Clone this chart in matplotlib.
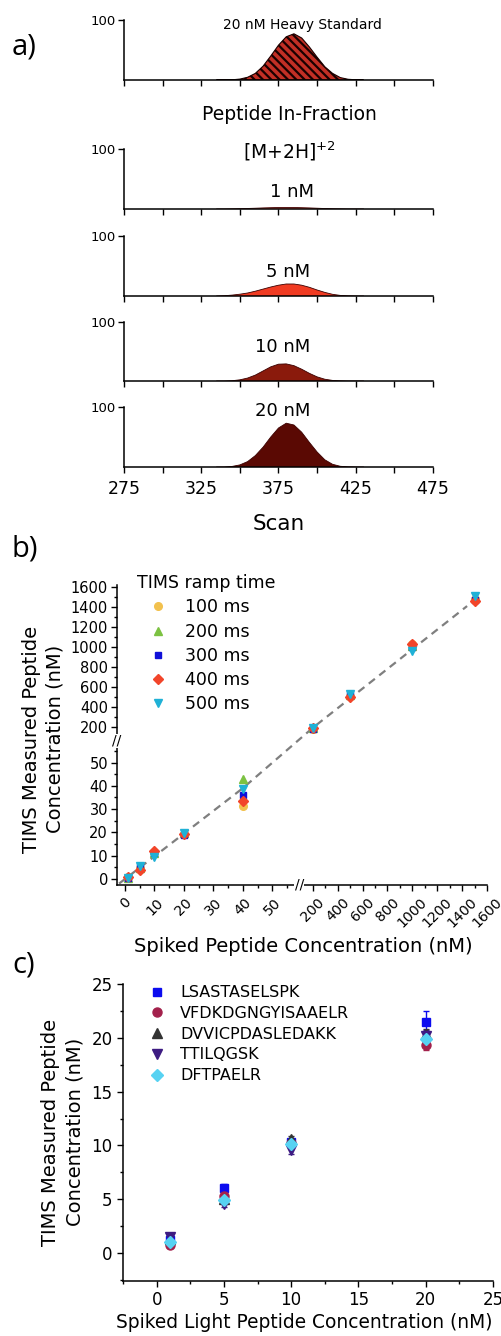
import numpy as np
import matplotlib
matplotlib.use('Agg')
import matplotlib.pyplot as plt
import matplotlib.transforms as mtransforms
from matplotlib.ticker import MultipleLocator, FixedLocator, NullFormatter

plt.rcParams['font.family'] = ['DejaVu Sans']
plt.rcParams['hatch.linewidth'] = 1.6
plt.rcParams['axes.linewidth'] = 1.1

# ---------------- data ----------------
# panel a: extracted ion mobilograms (relative intensity vs scan)
scan = [335, 340, 345, 350, 355, 360, 365, 370, 375, 380,
        385, 390, 395, 400, 405, 410, 415, 420, 425, 430]
heavy_20 = [0, 0, 0.3, 1.5, 4.5, 11, 23, 40, 58, 72,
            77, 70, 55, 38, 22, 11, 4, 1.2, 0.3, 0]
light_1 = [0, 0, 0.2, 0.5, 0.9, 1.3, 1.8, 2.2, 2.5, 2.6,
           2.5, 2.2, 1.8, 1.3, 0.8, 0.4, 0.2, 0, 0, 0]
light_5 = [0, 0.5, 1.5, 3, 5, 8, 11.5, 15, 18, 20,
           20, 18, 14.5, 10, 6, 2.8, 1, 0.3, 0, 0]
light_10 = [0, 0, 0.5, 2, 5, 10, 17, 24, 28.5, 29,
            26, 20, 13, 7, 3, 1, 0.3, 0, 0, 0]
light_20 = [0, 0, 1, 3.5, 9, 19, 33, 50, 65, 73,
            70, 58, 41, 25, 12, 4.5, 1.2, 0.3, 0, 0]
a_labels = ['20 nM Heavy Standard', '1 nM', '5 nM', '10 nM', '20 nM']
a_colors = ['#c22f25', '#f2604e', '#f03b22', '#8a1a0c', '#5a0903']
scan_ticks = [275, 325, 375, 425, 475]

# panel b: measured vs spiked, five ramp times
spiked = [1, 5, 10, 20, 40, 200, 500, 1000, 1500]
ramp_100 = [0.8, 4.5, 11.5, 19.5, 31.5, 185, 515, 1035, 1480]
ramp_200 = [0.6, 4.8, 11.0, 19.8, 43.0, 190, 520, 1010, 1490]
ramp_300 = [0.5, 5.0, 11.0, 19.0, 36.0, 188, 525, 1000, 1470]
ramp_400 = [1.0, 3.8, 12.0, 19.5, 33.5, 192, 505, 1030, 1465]
ramp_500 = [0.3, 5.7, 9.6, 19.8, 38.5, 195, 530, 965, 1510]
ramp_names = ['100 ms', '200 ms', '300 ms', '400 ms', '500 ms']
fit_x = [-2, 40, 200, 1440]
fit_y = [-2, 39, 196, 1410]

# panel c: five peptides
spiked_light = [1, 5, 10, 20]
pep_names = ['LSASTASELSPK', 'VFDKDGNGYISAAELR', 'DVVICPDASLEDAKK',
             'TTILQGSK', 'DFTPAELR']
pep_means = [[1.2, 6.0, 10.3, 21.5],
             [0.7, 5.3, 10.2, 19.3],
             [1.3, 5.0, 10.6, 20.4],
             [1.5, 4.6, 9.6, 20.2],
             [1.0, 4.9, 10.1, 19.9]]
pep_errs = [[0.3, 0.4, 0.3, 1.0],
            [0.2, 0.4, 0.4, 0.4],
            [0.2, 0.3, 0.3, 0.4],
            [0.2, 0.3, 0.4, 0.5],
            [0.2, 0.3, 0.3, 0.4]]

# ---------------- figure ----------------
W, H = 502, 1336
fig = plt.figure(figsize=(W / 100, H / 100), dpi=100)


def box(left, top, right, bottom):
    return [left / W, 1 - bottom / H, (right - left) / W, (bottom - top) / H]


def fpos(x, y):
    return x / W, 1 - y / H


# ---- panel a ----
a_boxes = [(20, 80), (149, 209), (236, 296), (322, 381), (407, 467)]
a_curves = [heavy_20, light_1, light_5, light_10, light_20]
for i, ((top, bot), vals) in enumerate(zip(a_boxes, a_curves)):
    ax = fig.add_axes(box(124, top, 433, bot))
    if i == 0:
        ax.fill_between(scan, vals, facecolor=a_colors[i], edgecolor='#1a0000',
                        hatch='\\\\\\\\', linewidth=0.8)
    else:
        ax.fill_between(scan, vals, facecolor=a_colors[i], edgecolor='none')
        ax.plot(scan, vals, color='#3a0000', lw=0.6)
    ax.set_xlim(275, 475)
    ax.set_ylim(0, 100)
    ax.spines[['top', 'right']].set_visible(False)
    ax.set_yticks([100])
    ax.xaxis.set_major_locator(FixedLocator(scan_ticks))
    ax.xaxis.set_minor_locator(MultipleLocator(25))
    ax.tick_params(direction='out', length=4, width=1, labelsize=9.5, pad=2)
    ax.tick_params(which='minor', direction='out', length=4, width=1)
    if i < 4:
        ax.set_xticklabels([])
    else:
        ax.tick_params(axis='x', labelsize=12.5, pad=5)
        ax.set_xlabel('Scan', fontsize=15.5, labelpad=12)

fig.text(*fpos(302, 25), a_labels[0], ha='center', va='center', fontsize=10)
fig.text(*fpos(289, 115), 'Peptide In-Fraction', ha='center', va='center', fontsize=13.5)
fig.text(*fpos(289, 151), r'[M+2H]$^{+2}$', ha='center', va='center', fontsize=13.5)
for (x, y), lab in zip([(292, 192), (288, 272), (283, 347), (283, 411)], a_labels[1:]):
    fig.text(*fpos(x, y), lab, ha='center', va='center', fontsize=13)

for lab, y in [('a)', 47), ('b)', 549), ('c)', 965)]:
    fig.text(*fpos(12, y), lab, ha='left', va='center', fontsize=21,
             family=['Open Sans', 'DejaVu Sans'])


# ---- panel b: broken axes via piecewise linear scales ----
def bx_fwd(x):
    x = np.asarray(x, float)
    return np.where(x <= 58, x * 2.95,
                    np.where(x <= 120, 171.1 + (x - 58) * 7 / 62,
                             178 + (x - 120) * 0.1246))


def bx_inv(p):
    p = np.asarray(p, float)
    return np.where(p <= 171.1, p / 2.95,
                    np.where(p <= 178, 58 + (p - 171.1) * 62 / 7,
                             120 + (p - 178) / 0.1246))


def by_fwd(y):
    y = np.asarray(y, float)
    return np.where(y <= 57, y * 2.32,
                    np.where(y <= 120, 132.2 + (y - 57) * 10.8 / 63,
                             143 + (y - 120) * 0.1))


def by_inv(p):
    p = np.asarray(p, float)
    return np.where(p <= 132.2, p / 2.32,
                    np.where(p <= 143, 57 + (p - 132.2) * 63 / 10.8,
                             120 + (p - 143) / 0.1))


axb = fig.add_axes(box(117, 585, 487, 885))
axb.set_xscale('function', functions=(bx_fwd, bx_inv))
axb.set_yscale('function', functions=(by_fwd, by_inv))
axb.plot(fit_x, fit_y, color='#7f7f7f', lw=1.6, ls=(0, (3.5, 2.5)), zorder=1)
ramp_sets = [ramp_100, ramp_200, ramp_300, ramp_400, ramp_500]
ramp_colors = ['#f2c14e', '#7cc242', '#1010d8', '#f2452a', '#1fb1d6']
ramp_markers = ['o', '^', 's', 'D', 'v']
ramp_sizes = [5.5, 6, 5, 5, 6]
for vals, c, m, s, name in zip(ramp_sets, ramp_colors, ramp_markers, ramp_sizes, ramp_names):
    axb.plot(spiked, vals, ls='none', marker=m, color=c, ms=s, mec=c, label=name, zorder=3)
axb.set_xlim(-2.7, 1600)
axb.set_ylim(-2.6, 1620)
axb.xaxis.set_major_locator(FixedLocator([0, 10, 20, 30, 40, 50] + list(range(200, 1601, 200))))
axb.xaxis.set_minor_locator(FixedLocator([5, 15, 25, 35, 45, 55] + list(range(300, 1501, 200))))
axb.yaxis.set_major_locator(FixedLocator([0, 10, 20, 30, 40, 50] + list(range(200, 1601, 200))))
axb.yaxis.set_minor_locator(FixedLocator([5, 15, 25, 35, 45, 55] + list(range(300, 1501, 200))))
axb.xaxis.set_major_formatter(plt.FuncFormatter(lambda v, p: '%d' % round(v)))
axb.yaxis.set_major_formatter(plt.FuncFormatter(lambda v, p: '%d' % round(v)))
axb.xaxis.set_minor_formatter(NullFormatter())
axb.yaxis.set_minor_formatter(NullFormatter())
axb.spines[['top', 'right']].set_visible(False)
axb.tick_params(direction='out', length=4.5, width=1, labelsize=10.5, pad=2)
axb.tick_params(which='minor', direction='out', length=2.5, width=1)
plt.setp(axb.get_xticklabels(), rotation=45, ha='center')
axb.tick_params(axis='x', pad=3, labelsize=10.2)

# break marks
trx = mtransforms.blended_transform_factory(axb.transData, axb.transAxes)
axb.text(89, 0, '//', transform=trx, ha='center', va='center', fontsize=10,
         bbox=dict(fc='white', ec='none', pad=0.3), clip_on=False, zorder=6)
try_ = mtransforms.blended_transform_factory(axb.transAxes, axb.transData)
axb.text(0, 88, '//', transform=try_, ha='center', va='center', fontsize=10,
         bbox=dict(fc='white', ec='none', pad=0.3), clip_on=False, zorder=6)

axb.legend(title='TIMS ramp time', loc='upper left', bbox_to_anchor=(0.054, 1.036),
           frameon=False, fontsize=12.5, title_fontsize=12.5, borderpad=0,
           borderaxespad=0, handlelength=2.4, handletextpad=0.35,
           labelspacing=0.36, alignment='left')
axb.set_xlabel('Spiked Peptide Concentration (nM)', fontsize=14)
axb.xaxis.set_label_coords(0.503, -0.173)
fig.text(*fpos(43, 739), 'TIMS Measured Peptide\nConcentration (nM)', rotation=90,
         ha='center', va='center', fontsize=14, linespacing=1.33)

# ---- panel c ----
axc = fig.add_axes(box(123, 984, 493, 1281))
pep_colors = ['#0b0bef', '#a3214c', '#333333', '#3d1b82', '#57d2f2']
pep_markers = ['s', 'o', '^', 'v', 'D']
pep_sizes = [6, 6.5, 6.5, 6.5, 6]
pep_handles = []
for name, m_, e_, c, mk, s in zip(pep_names, pep_means, pep_errs, pep_colors, pep_markers, pep_sizes):
    eb = axc.errorbar(spiked_light, m_, yerr=e_, ls='none', marker=mk, ms=s, color=c,
                      mec=c, ecolor=c, elinewidth=1, capsize=2.5, label=name)
    pep_handles.append(eb[0])
axc.set_xlim(-2.5, 25)
axc.set_ylim(-2.6, 25)
axc.xaxis.set_major_locator(MultipleLocator(5))
axc.xaxis.set_minor_locator(MultipleLocator(2.5))
axc.yaxis.set_major_locator(MultipleLocator(5))
axc.yaxis.set_minor_locator(MultipleLocator(2.5))
axc.spines[['top', 'right']].set_visible(False)
axc.tick_params(direction='out', length=4.5, width=1, labelsize=12, pad=3)
axc.tick_params(which='minor', direction='out', length=2.5, width=1)
axc.legend(pep_handles, pep_names, loc='upper left', bbox_to_anchor=(0.049, 0.996),
           frameon=False, fontsize=11.5, borderpad=0, borderaxespad=0,
           handlelength=2.0, handletextpad=0.45, labelspacing=0.36)
axc.set_xlabel('Spiked Light Peptide Concentration (nM)', fontsize=13.4)
axc.xaxis.set_label_coords(0.49, -0.108)
fig.text(*fpos(63, 1132), 'TIMS Measured Peptide\nConcentration (nM)', rotation=90,
         ha='center', va='center', fontsize=14, linespacing=1.38)

fig.savefig('out.png', dpi=100)
